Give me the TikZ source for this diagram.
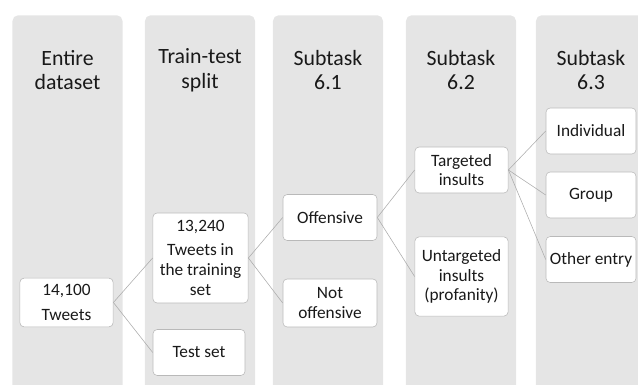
\documentclass[tikz,border=0pt]{standalone}
\usepackage{fontspec}
\setmainfont{Carlito}
\usetikzlibrary{positioning}

\begin{document}
\begin{tikzpicture}[
        x=0.025cm, y=-0.025cm,
        lane/.style={rectangle, fill=gray!20, rounded corners=4pt, minimum width=2.75cm, minimum height=9.6cm, anchor=north, inner sep=0pt},
        head/.style={align=center, font=\fontsize{15.5}{17.5}\selectfont, text=black!90},
        box/.style={rectangle, draw=gray!55, fill=white, rounded corners=3pt, minimum width=2.33cm, minimum height=1.15cm, align=center, font=\fontsize{12.3}{14}\selectfont, text=black!90, inner sep=2pt},
        link/.style={draw=gray!65, thin}
    ]
    \clip (0,0) rectangle (638,385);
    % Lanes
    \node (lane1) [lane] at (67.5,15) {};
    \node (lane2) [lane] at (200,15) {};
    \node (lane3) [lane] at (328,15) {};
    \node (lane4) [lane] at (461,15) {};
    \node (lane5) [lane] at (591,15) {};

    % Headers
    \node (h1) [head] at (67.5,70) {Entire\\dataset};
    \node (h2) [head] at (200,70) {Train-test\\split};
    \node (h3) [head] at (328,70) {Subtask\\6.1};
    \node (h4) [head] at (461,70) {Subtask\\6.2};
    \node (h5) [head] at (591,70) {Subtask\\6.3};

    % Nodes
    \node (all) [box, minimum width=2.33cm, minimum height=1.22cm] at (66.5,302.5) {14,100\\[4pt]Tweets};
    \node (train) [box, minimum width=2.38cm, minimum height=2.25cm] at (200.5,258) {13,240\\[3pt]Tweets in\\the training\\set};
    \node (test) [box, minimum width=2.3cm] at (199,352.5) {Test set};
    \node (off) [box, minimum width=2.35cm] at (330,217.5) {Offensive};
    \node (notoff) [box, minimum width=2.35cm, minimum height=1.2cm] at (330,303) {Not\\offensive};
    \node (targ) [box] at (461.5,170) {Targeted\\insults};
    \node (untarg) [box, minimum height=1.98cm] at (461.5,276.5) {Untargeted\\insults\\(profanity)};
    \node (indiv) [box, minimum width=2.25cm] at (591,131) {Individual};
    \node (group) [box, minimum width=2.25cm] at (591,195) {Group};
    \node (other) [box, minimum width=2.25cm] at (591,259.5) {Other entry};

    % Links
    \draw [link] (all.east) -- (train.west);
    \draw [link] (all.east) -- (test.west);
    \draw [link] (train.east) -- (off.west);
    \draw [link] (train.east) -- (notoff.west);
    \draw [link] (off.east) -- (targ.west);
    \draw [link] (off.east) -- (untarg.west);
    \draw [link] (targ.east) -- (indiv.west);
    \draw [link] (targ.east) -- (group.west);
    \draw [link] (targ.east) -- (other.west);
\end{tikzpicture}
\end{document}
